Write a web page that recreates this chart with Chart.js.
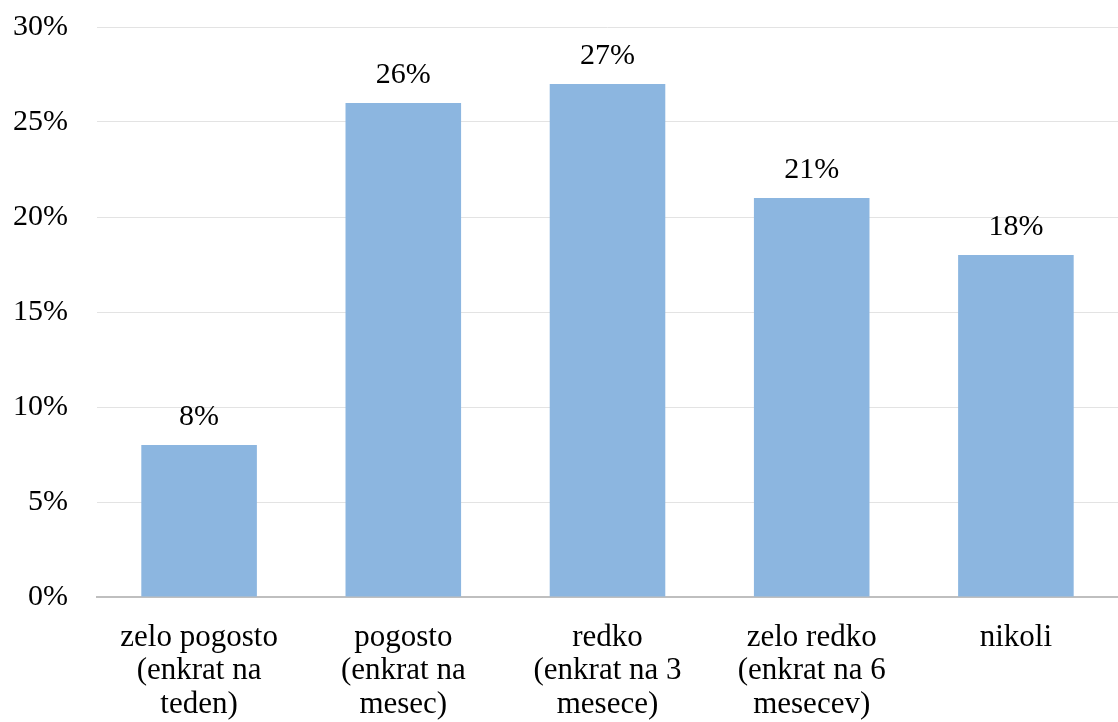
<!DOCTYPE html>
<html>
<head>
<meta charset="utf-8">
<script src="https://cdn.jsdelivr.net/npm/chart.js@4/dist/chart.umd.min.js"></script>
<style>
  html, body { margin: 0; padding: 0; background: #fff; }
  #wrap { width: 1118px; height: 722px; }
</style>
</head>
<body>
<div id="wrap"><canvas id="chartCanvas" width="1118" height="722"></canvas></div>
<script>
// Podatki
const categories = [
    ['zelo pogosto', '(enkrat na', 'teden)'],
    ['pogosto', '(enkrat na', 'mesec)'],
    ['redko', '(enkrat na 3', 'mesece)'],
    ['zelo redko', '(enkrat na 6', 'mesecev)'],
    'nikoli'
];
const values = [8, 26, 27, 21, 18];
const yTicks = [0, 5, 10, 15, 20, 25, 30];

const fontFamily = '"Liberation Serif", "Times New Roman", serif';

// Oznake nad stolpci
const valueLabels = {
    id: 'valueLabels',
    afterDatasetsDraw(chart) {
        const ctx = chart.ctx;
        const meta = chart.getDatasetMeta(0);
        ctx.save();
        ctx.font = '30px ' + fontFamily;
        ctx.fillStyle = '#000';
        ctx.textAlign = 'center';
        ctx.textBaseline = 'alphabetic';
        meta.data.forEach((bar, i) => {
            ctx.fillText(values[i] + '%', bar.x, bar.y - 20);
        });
        ctx.restore();
    }
};

const ctx = document.getElementById('chartCanvas').getContext('2d');
const chart = new Chart(ctx, {
    type: 'bar',
    data: {
        labels: categories,
        datasets: [{
            data: values,
            backgroundColor: '#8cb6e0',
            borderWidth: 0,
            barPercentage: 0.566,
            categoryPercentage: 1
        }]
    },
    options: {
        responsive: false,
        animation: false,
        layout: { padding: { top: 27, right: 0, bottom: 0, left: 0 } },
        plugins: {
            legend: { display: false },
            tooltip: { enabled: false }
        },
        scales: {
            x: {
                grid: { display: false, drawTicks: false },
                border: { display: true, color: '#bfbfbf', width: 2 },
                ticks: {
                    color: '#000',
                    font: { family: fontFamily, size: 31, lineHeight: 1.08 },
                    padding: 24,
                    autoSkip: false,
                    maxRotation: 0
                },
                afterFit(scale) { scale.height = 125; }
            },
            y: {
                min: 0,
                max: 30,
                afterBuildTicks(scale) {
                    scale.ticks = yTicks.map(v => ({ value: v }));
                },
                grid: {
                    drawTicks: false,
                    color: (c) => c.tick && c.tick.value === 0 ? 'rgba(0,0,0,0)' : '#e3e3e3',
                    lineWidth: 1
                },
                border: { display: false },
                ticks: {
                    color: '#000',
                    font: { family: fontFamily, size: 30 },
                    padding: 29,
                    callback: (v) => v + '%'
                },
                afterFit(scale) {
                    scale.width = 97;
                    scale.paddingTop = 0;
                    scale.paddingBottom = 0;
                }
            }
        }
    },
    plugins: [valueLabels]
});
</script>
</body>
</html>
